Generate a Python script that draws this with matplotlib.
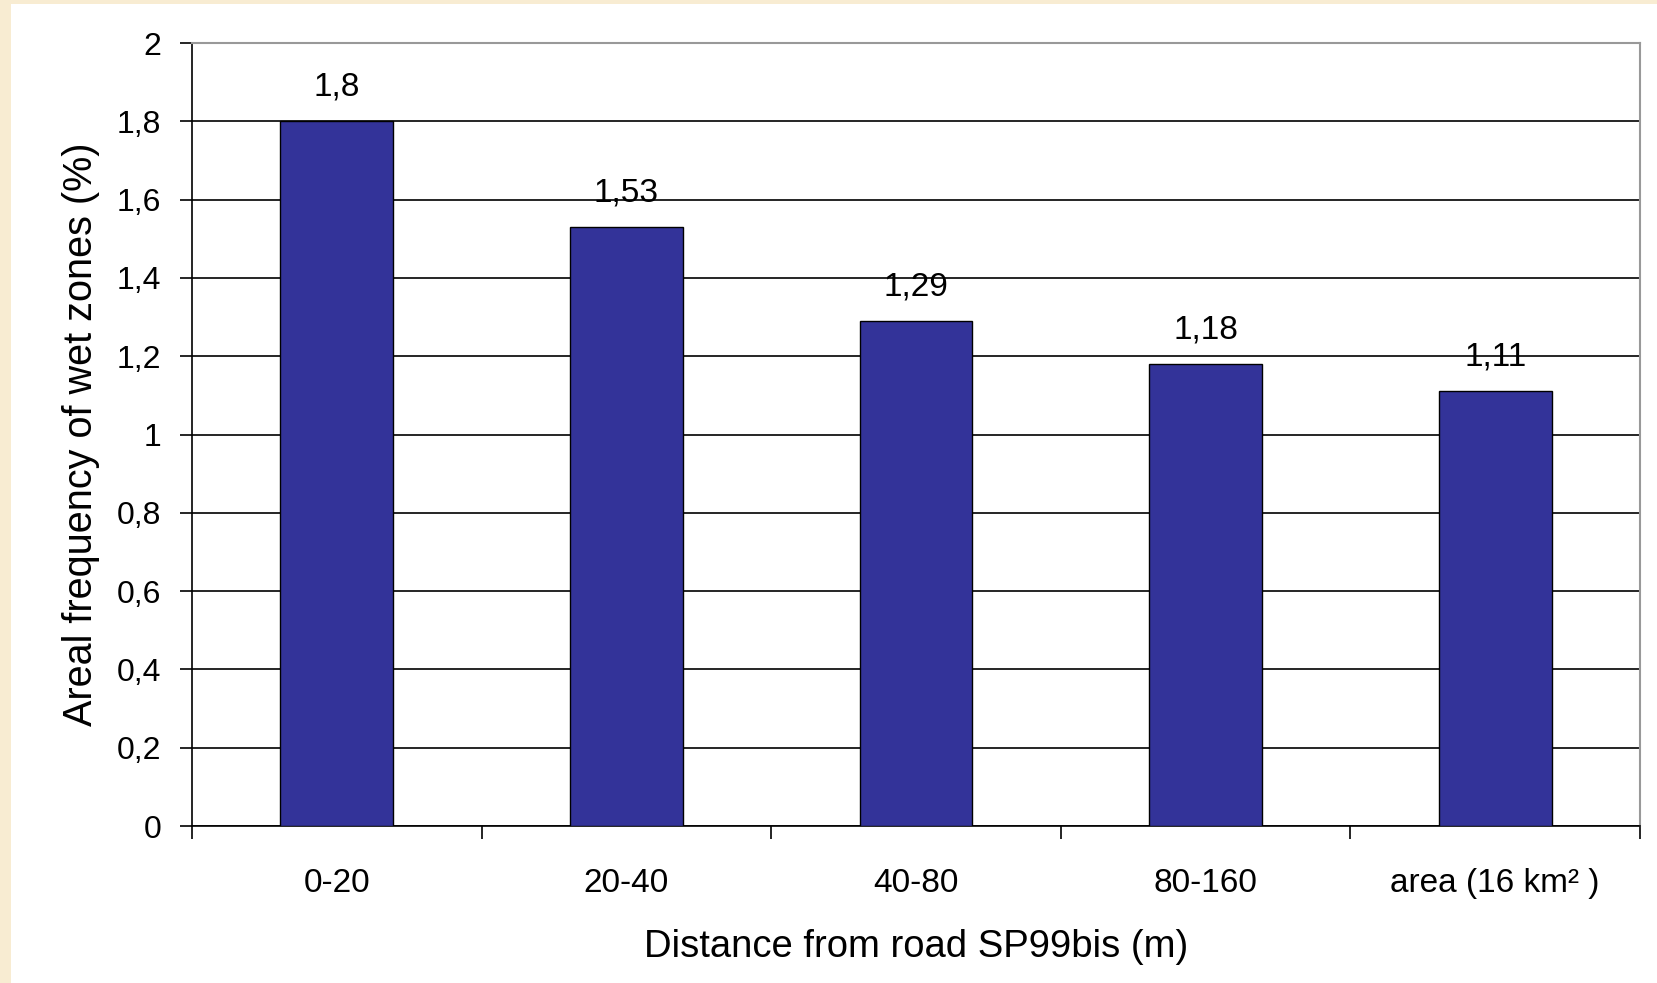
import matplotlib
matplotlib.use("Agg")
from matplotlib import pyplot as plt
from matplotlib.patches import Rectangle

plt.rcParams['font.family'] = ['Liberation Sans', 'DejaVu Sans']

categories = ["0-20", "20-40", "40-80", "80-160", "area (16 km\u00b2 )"]
values = [1.8, 1.53, 1.29, 1.18, 1.11]
value_labels = ["1,8", "1,53", "1,29", "1,18", "1,11"]
y_ticks = [0, 0.2, 0.4, 0.6, 0.8, 1.0, 1.2, 1.4, 1.6, 1.8, 2.0]
y_tick_labels = ["0", "0,2", "0,4", "0,6", "0,8", "1", "1,2", "1,4", "1,6", "1,8", "2"]

fig = plt.figure(figsize=(16.58, 9.83), dpi=100)
fig.patch.set_facecolor("#f8ecd2")
fig.patches.append(Rectangle((11 / 1658, 0), 1, 1 - 4 / 983, transform=fig.transFigure,
                             facecolor="white", edgecolor="none", zorder=-10))

ax = fig.add_axes([192 / 1658, 1 - 826 / 983, (1640 - 192) / 1658, (826 - 43) / 983])
ax.set_facecolor("white")

x = list(range(len(categories)))
ax.bar(x, values, width=0.39, color="#333399", edgecolor="black", linewidth=1, zorder=3)

for xi, v, lab in zip(x, values, value_labels):
    ax.text(xi, v + 0.087, lab, ha="center", va="center", fontsize=24, zorder=4)

ax.set_xlim(-0.5, len(categories) - 0.5)
ax.set_ylim(0, 2)
ax.set_yticks(y_ticks)
ax.set_yticklabels(y_tick_labels, fontsize=23)
ax.yaxis.grid(True, color="black", linewidth=1.2, zorder=1)
ax.set_axisbelow(True)

ax.set_xticks([i - 0.5 for i in range(len(categories) + 1)])
ax.set_xticklabels([])
ax.set_xticks(x, minor=True)
ax.set_xticklabels(categories, minor=True, fontsize=24)
ax.tick_params(axis="x", which="major", direction="out", length=9, width=1.2, color="black")
ax.tick_params(axis="x", which="minor", length=0, pad=30)
ax.tick_params(axis="y", direction="out", length=9, width=1.2, pad=13)

ax.spines["left"].set_color("black")
ax.spines["left"].set_linewidth(1.2)
ax.spines["bottom"].set_color("black")
ax.spines["bottom"].set_linewidth(1.2)
ax.spines["top"].set_color("#999999")
ax.spines["right"].set_color("#999999")
ax.spines["top"].set_linewidth(1.5)
ax.spines["right"].set_linewidth(1.5)

ax.set_xlabel("Distance from road SP99bis (m)", fontsize=27.5, labelpad=22)
ax.set_ylabel("Areal frequency of wet zones (%)", fontsize=28.5, labelpad=12)

fig.savefig("out.png", dpi=100, facecolor=fig.get_facecolor())
